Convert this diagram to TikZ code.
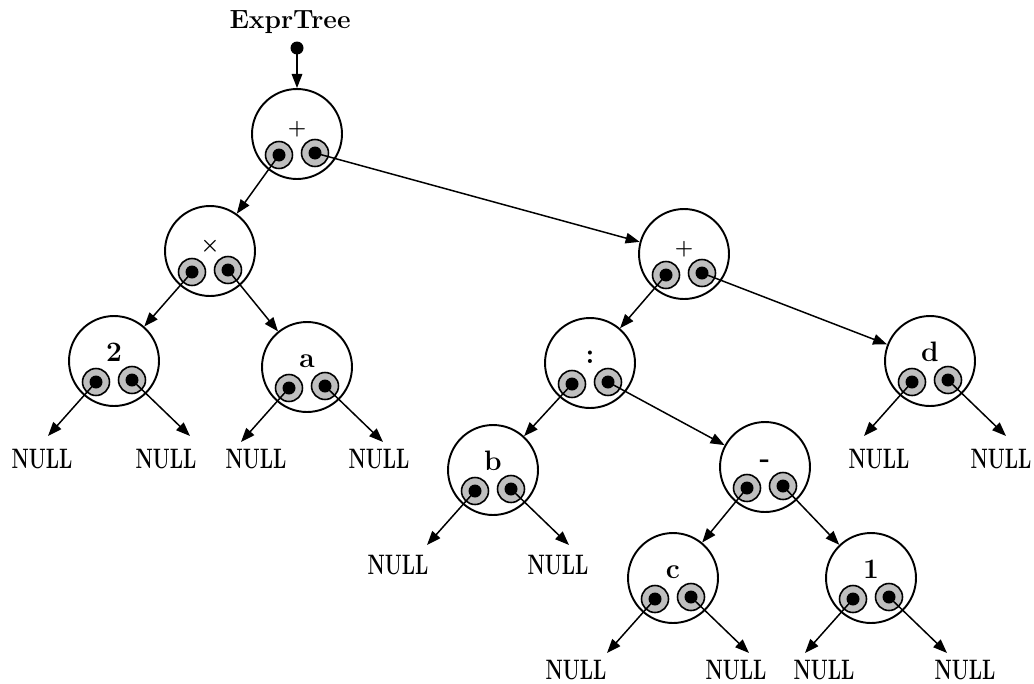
\documentclass[tikz,border=0pt]{standalone}
\usepackage{amsmath}
\usepackage{graphicx}
\usepackage{tikz}
\usetikzlibrary{shapes,arrows.meta,positioning}

\newcommand{\nullword}{\scalebox{0.7}[1]{\textbf{NULL}}}

\begin{document}
\begin{tikzpicture}[x=0.02cm,y=-0.02cm,
    bignode/.style={draw, circle, line width=1.1pt, minimum size=1.8cm, inner sep=0pt},
    lbl/.style={anchor=base, inner sep=0pt, font=\fontsize{16}{16}\selectfont\bfseries},
    op/.style={lbl, font=\fontsize{12}{12}\selectfont\bfseries},
    pocket/.style={draw, circle, line width=0.9pt, fill=black!25, minimum size=0.54cm, inner sep=0pt},
    dot/.style={circle, fill=black, minimum size=0.26cm, inner sep=0pt},
    ptr/.style={line width=0.85pt, -{Triangle[length=8pt,width=6pt]}},
    nul/.style={anchor=base, inner sep=0pt, font=\fontsize{16}{16}\selectfont\bfseries}]
    \useasboundingbox (0,0) rectangle (1034,683);

    % head pointer
    \node[lbl, font=\fontsize{15}{15}\selectfont\bfseries] (head) at (290,28) {ExprTree};
    \node[dot] (headdot) at (297,48) {};

    % tree nodes with their two pointer fields
    \foreach \n/\x/\y/\s/\t in {root/297/134/op/+, times/210/251/op/{$\boldsymbol{\times}$}, plusr/684/254/op/+,
        two/114/361/lbl/2, aa/307/367/lbl/a, colon/590/363/lbl/:, dd/930/361/lbl/d,
        bb/493/470/lbl/b, minus/765/467/lbl/-, cc/673/578/lbl/c, one/871/578/lbl/1} {
        \node[bignode] (\n) at (\x,\y) {};
        \node[\s] at (\x,\y) {\t};
        \node[pocket] (\n-pl) at (\x-18,\y+21) {};
        \node[pocket] (\n-pr) at (\x+18,\y+19) {};
        \node[dot] (\n-l) at (\n-pl) {};
        \node[dot] (\n-r) at (\n-pr) {};
    }

    \draw[ptr] (headdot.center) -- (root);
    \draw[ptr] (root-l.center) -- (times);
    \draw[ptr] (root-r.center) -- (plusr);
    \draw[ptr] (times-l.center) -- (two);
    \draw[ptr] (times-r.center) -- (aa);
    \draw[ptr] (plusr-l.center) -- (colon);
    \draw[ptr] (plusr-r.center) -- (dd);
    \draw[ptr] (colon-l.center) -- (bb);
    \draw[ptr] (colon-r.center) -- (minus);
    \draw[ptr] (minus-l.center) -- (cc);
    \draw[ptr] (minus-r.center) -- (one);

    % leaves point to NULL
    \foreach \n/\a/\b/\y in {two/42/166/468, aa/256/379/468, dd/879/1001/468,
        bb/398/558/574, cc/576/736/679, one/824/965/679} {
        \node[nul] (\n-nl) at (\a,\y) {\nullword};
        \node[nul] (\n-nr) at (\b,\y) {\nullword};
        \draw[ptr] (\n-l.center) -- ++(-48,54) coordinate (\n-lend);
        \draw[ptr] (\n-r.center) -- ++(58,56) coordinate (\n-rend);
    }
\end{tikzpicture}
\end{document}
